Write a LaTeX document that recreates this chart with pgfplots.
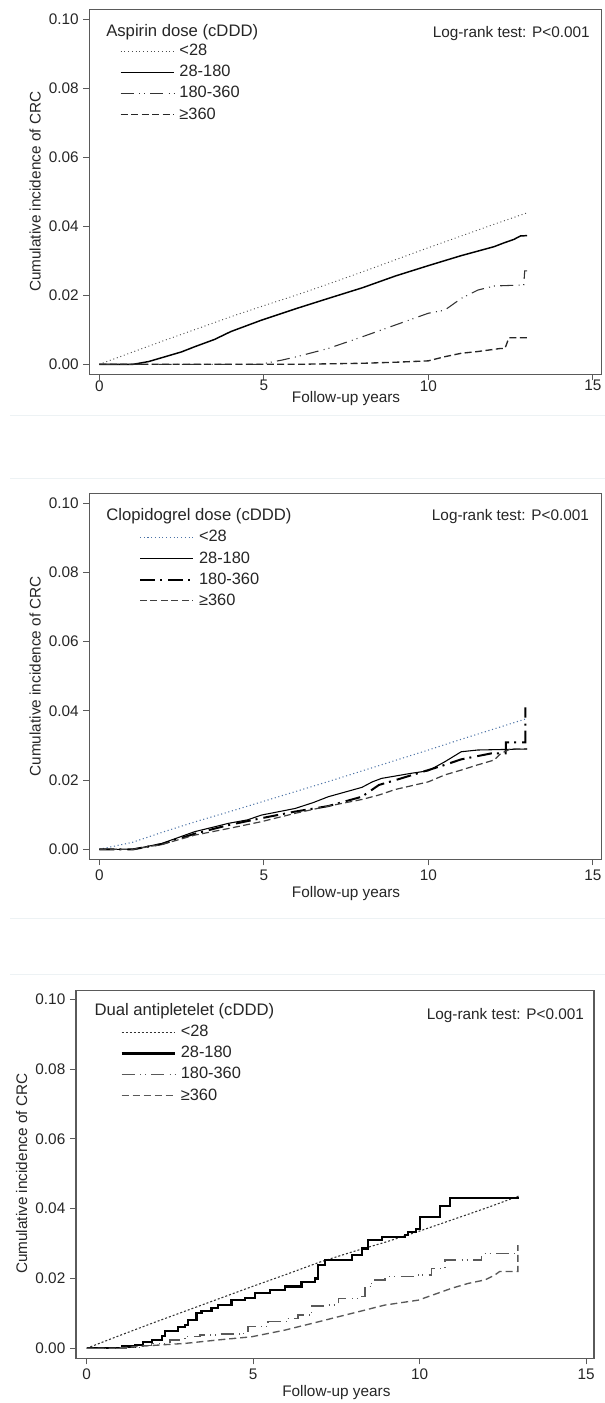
\documentclass[border=0pt]{standalone}
\usepackage{fontspec}
\setmainfont{Liberation Sans}
\usepackage{pgfplots}
\pgfplotsset{compat=1.18}
\newcommand\tfs{\fontsize{11.5pt}{13.8pt}\selectfont}
\newcommand\lfs{\fontsize{12.3pt}{14.8pt}\selectfont}
\newcommand\hfs{\fontsize{12.5pt}{15pt}\selectfont}
\definecolor{boxgray}{HTML}{5A5A5A}
\definecolor{sepcol}{HTML}{EDF2F4}
\definecolor{dotblue}{HTML}{4A72A6}
\pgfplotsset{
 kmaxis/.style={
  scale only axis,
  axis line style={draw=boxgray, line width=0.8pt},
  tick pos=left, tick align=outside,
  major tick length=4.5pt,
  tick style={draw=boxgray, line width=0.8pt},
  xtick={0,5,10,15},
  ytick={0,0.02,0.04,0.06,0.08,0.1},
  scaled y ticks=false,
  /pgf/number format/assume math mode=true,
  yticklabel style={/pgf/number format/fixed, /pgf/number format/fixed zerofill, /pgf/number format/precision=2},
  tick label style={font=\tfs, text=black!85},
  label style={font=\tfs, text=black!85},
  xlabel={Follow-up years},
  ylabel={Cumulative incidence of CRC},
  legend cell align=left,
  legend style={draw=none, fill=none, inner sep=0pt, outer sep=0pt, row sep=4.3pt, column sep=3.5pt, font=\lfs, text=black!85,
     nodes={inner sep=0pt, text height=9pt, text depth=2.5pt, anchor=west}},
  legend image code/.code={\draw[##1] (0pt,0pt) -- (40pt,0pt);},
 }
}
\begin{document}
\begin{tikzpicture}
\useasboundingbox (0,0) rectangle (453.75pt,-1052.25pt);
\fill[white] (0,0) rectangle (453.75pt,-1052.25pt);
% ---------------- Panel 1: Aspirin ----------------
\begin{axis}[kmaxis, at={(66.98pt,-280.73pt)}, anchor=south west,
  width=384.3pt, height=273.75pt,
  xmin=-0.304, xmax=15.27, ymin=-0.0029, ymax=0.1029,
  xlabel style={at={(axis cs:7.5,-0.0098)}, anchor=center},
  ylabel style={at={(axis cs:-1.954,0.05)}, anchor=center},
  xticklabel style={yshift=3.5pt},
  legend style={at={(axis cs:0.629,0.0929)}, anchor=north west}]
\addplot[black!70, line width=0.7pt, dash pattern=on 0.7pt off 2.1pt] coordinates {
 (0,0) (1,0.0035) (2,0.007) (3,0.0104) (4,0.0138) (5,0.017) (6,0.0201) (7,0.0234) (8,0.0268) (9,0.0303) (10,0.0338) (11,0.0372) (12,0.0406) (13,0.0439)};
\addlegendentry{<28}
\addplot[black, line width=1.1pt] coordinates {
 (0,0) (1.03,0) (1.5,0.0008) (2,0.0022) (2.5,0.0036) (2.9,0.0051) (3.5,0.0072) (4,0.0095) (4.93,0.0128) (6,0.0162) (6.96,0.0191) (8,0.0222) (9,0.0256) (10,0.0286) (11,0.0315) (11.5,0.0328) (12,0.0341) (12.3,0.0352) (12.6,0.0362) (12.8,0.0372) (13,0.0373)};
\addlegendentry{28-180}
\addplot[black!80, line width=0.8pt, dash pattern=on 9.75pt off 4pt on 0.75pt off 3pt on 0.75pt off 4pt] coordinates {
 (0,0) (4.9,0) (5.2,0.0006) (5.54,0.0012) (6,0.0022) (6.96,0.0046) (8,0.008) (9,0.0114) (10,0.0148) (10.5,0.0157) (11,0.0191) (11.5,0.0215) (12,0.0227) (12.9,0.023) (12.93,0.0271) (13,0.0271)};
\addlegendentry{180-360}
\addplot[black!85, line width=1pt, dash pattern=on 5.25pt off 2.6pt] coordinates {
 (0,0) (6,0) (8,0.0003) (9,0.0006) (10,0.001) (10.5,0.0022) (11,0.0032) (11.5,0.0037) (12.2,0.0046) (12.33,0.0046) (12.45,0.0077) (13,0.0077)};
\addlegendentry{≥360}
\node[anchor=west, font=\hfs, text=black!85, inner sep=0pt] at (axis cs:0.204,0.0964) {Aspirin dose (cDDD)};
\node[anchor=east, font=\tfs, text=black!85, inner sep=0pt] at (axis cs:14.915,0.0959) {Log-rank test: P<0.001};
\end{axis}
% ---------------- Panel 2: Clopidogrel ----------------
\begin{axis}[kmaxis, at={(66.98pt,-644.48pt)}, anchor=south west,
  width=384.3pt, height=274.5pt,
  xmin=-0.304, xmax=15.27, ymin=-0.00289, ymax=0.10289,
  xlabel style={at={(axis cs:7.5,-0.0127)}, anchor=center},
  ylabel style={at={(axis cs:-1.954,0.05)}, anchor=center},
  xticklabel style={yshift=0pt},
  legend style={at={(axis cs:1.207,0.0923)}, anchor=north west}]
\addplot[dotblue, line width=0.8pt, dash pattern=on 0.8pt off 2pt] coordinates {
 (0,0) (1,0.002) (2,0.0052) (3,0.0082) (4,0.011) (5,0.0139) (6,0.0168) (7,0.0197) (8,0.0227) (9,0.0257) (10,0.0287) (11,0.0318) (12,0.0348) (13,0.0378)};
\addlegendentry{<28}
\addplot[black, line width=0.8pt] coordinates {
 (0,0) (1.03,0) (1.9,0.0017) (2.9,0.0051) (3.5,0.0065) (3.92,0.0075) (4.5,0.0085) (4.93,0.0099) (5.95,0.0118) (6.5,0.0135) (6.96,0.0152) (7.98,0.0179) (8.3,0.0195) (8.58,0.0205) (9.5,0.022) (10,0.0227) (10.5,0.0253) (11,0.0282) (11.5,0.0287) (13,0.029)};
\addlegendentry{28-180}
\addplot[black, line width=1.5pt, dash pattern=on 11.25pt off 3.75pt on 1.5pt off 4.5pt] coordinates {
 (0,0) (1.03,0) (1.9,0.0015) (2.9,0.0045) (3.92,0.007) (4.93,0.009) (5.95,0.0109) (6.96,0.0125) (7.98,0.0152) (8.5,0.0186) (9,0.02) (10,0.0229) (10.5,0.0244) (11,0.026) (11.9,0.0277) (12.35,0.0277) (12.36,0.0309) (12.95,0.0309) (12.95,0.041)};
\addlegendentry{180-360}
\addplot[black!75, line width=0.9pt, dash pattern=on 5.25pt off 2.6pt] coordinates {
 (0,0) (1.03,0) (1.9,0.0014) (2.9,0.0041) (3.92,0.006) (4.93,0.008) (5.95,0.0104) (6.96,0.0125) (7.98,0.0144) (8.5,0.0157) (9,0.0173) (10,0.0195) (10.5,0.0215) (11,0.0229) (11.5,0.0244) (12,0.0258) (12.2,0.0277) (12.5,0.029) (13,0.029)};
\addlegendentry{≥360}
\node[anchor=west, font=\hfs, text=black!85, inner sep=0pt] at (axis cs:0.204,0.0963) {Clopidogrel dose (cDDD)};
\node[anchor=east, font=\tfs, text=black!85, inner sep=0pt] at (axis cs:14.89,0.0961) {Log-rank test: P<0.001};
\end{axis}
% ---------------- Panel 3: Dual antiplatelet ----------------
\begin{axis}[kmaxis, at={(57pt,-1018.73pt)}, anchor=south west,
  width=388.5pt, height=276.2pt,
  xmin=-0.32, xmax=15.236, ymin=-0.00287, ymax=0.10266,
  xlabel style={at={(axis cs:7.5,-0.0127)}, anchor=center},
  ylabel style={at={(axis cs:-1.952,0.05)}, anchor=center},
  xticklabel style={yshift=0pt},
  legend style={at={(axis cs:1.021,0.0927)}, anchor=north west}]
\addplot[black!80, line width=0.8pt, dash pattern=on 1.5pt off 1.5pt] coordinates {
 (0,0) (1,0.0037) (2,0.0073) (3,0.0108) (4,0.0143) (5,0.0178) (6,0.0212) (7,0.0247) (8,0.0277) (9,0.0305) (10,0.0336) (11,0.0369) (12,0.0402) (12.97,0.0436)};
\addlegendentry{<28}
\addplot[black, line width=1.6pt, const plot] coordinates {
 (0,0) (1.05,0.0005) (1.45,0.001) (1.7,0.0017) (1.95,0.0024) (2.25,0.0035) (2.35,0.005) (2.75,0.0062) (2.95,0.0067) (3.05,0.0081) (3.3,0.01) (3.45,0.0107) (3.75,0.0116) (3.95,0.0124) (4.35,0.0138) (4.75,0.0143) (5.05,0.0158) (5.5,0.0167) (5.95,0.0177) (6.45,0.0191) (6.86,0.02) (6.95,0.0239) (7.16,0.0253) (7.96,0.0267) (8.26,0.0286) (8.46,0.031) (8.86,0.032) (9.56,0.0325) (9.66,0.0334) (9.9,0.0341) (10.0,0.0377) (10.6,0.0408) (10.91,0.043) (12.97,0.043)};
\addlegendentry{28-180}
\addplot[black!65, line width=1pt, const plot, dash pattern=on 9.75pt off 4pt on 0.75pt off 3pt on 0.75pt off 4pt] coordinates {
 (0,0) (1.2,0.0003) (1.6,0.0008) (1.95,0.0014) (2.5,0.0024) (2.95,0.0033) (3.4,0.0038) (3.95,0.0041) (4.65,0.0043) (4.85,0.0062) (5.45,0.0076) (6.0,0.0086) (6.35,0.0095) (6.76,0.0121) (7.16,0.0124) (7.56,0.0143) (8.16,0.0148) (8.36,0.0177) (8.56,0.0196) (8.96,0.0205) (9.96,0.021) (10.36,0.0229) (10.76,0.0253) (11.86,0.0272) (12.97,0.0272)};
\addlegendentry{180-360}
\addplot[black!65, line width=1pt, dash pattern=on 5.25pt off 3pt] coordinates {
 (0,0) (0.8,0) (1.95,0.0008) (2.95,0.0014) (3.95,0.0024) (4.95,0.0033) (5.95,0.0052) (6.96,0.0076) (7.96,0.01) (8.96,0.0124) (9.96,0.0138) (10.96,0.0172) (11.46,0.0186) (11.96,0.0196) (12.26,0.021) (12.4,0.022) (12.95,0.022) (12.95,0.0296)};
\addlegendentry{≥360}
\node[anchor=west, font=\hfs, text=black!85, inner sep=0pt] at (axis cs:0.228,0.0965) {Dual antipletelet (cDDD)};
\node[anchor=east, font=\tfs, text=black!85, inner sep=0pt] at (axis cs:14.94,0.0955) {Log-rank test: P<0.001};
\end{axis}
% faint separators
\draw[sepcol, line width=0.75pt] (7.5pt,-311.25pt) -- (453.75pt,-311.25pt);
\draw[sepcol, line width=0.75pt] (7.5pt,-358.5pt) -- (453.75pt,-358.5pt);
\draw[sepcol, line width=0.75pt] (7.5pt,-688.5pt) -- (453.75pt,-688.5pt);
\draw[sepcol, line width=0.75pt] (7.5pt,-730.5pt) -- (453.75pt,-730.5pt);
\end{tikzpicture}
\end{document}
